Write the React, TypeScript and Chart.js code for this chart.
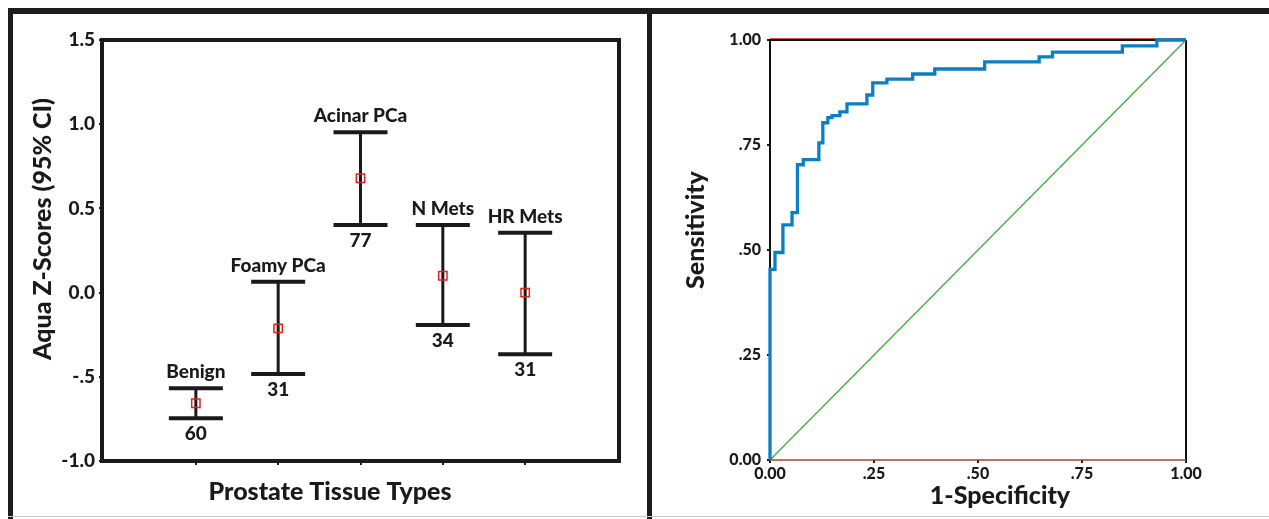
import React, { useEffect, useRef } from 'react';
import { Chart, registerables } from 'chart.js';

Chart.register(...registerables);

const FONT = 'Lato, "Noto Sans", "DejaVu Sans", sans-serif';
const INK = '#1a1a1a';

// ---------- Left panel: error bars ----------
const categories = ['Benign', 'Foamy PCa', 'Acinar PCa', 'N Mets', 'HR Mets'];
const counts = ['60', '31', '77', '34', '31'];
const ciUpper = [-0.568, 0.065, 0.952, 0.401, 0.356];
const means = [-0.657, -0.212, 0.679, 0.1, 0.0];
const ciLower = [-0.746, -0.483, 0.401, -0.192, -0.366];
const zTickValues = [-1.0, -0.5, 0.0, 0.5, 1.0, 1.5];
const zTickLabels = ['-1.0', '-.5', '0.0', '0.5', '1.0', '1.5'];
const leftYTitle = 'Aqua Z-Scores (95% CI)';
const leftXTitle = 'Prostate Tissue Types';

// ---------- Right panel: ROC ----------
const rocFpr = [0, 0, 0.012, 0.031, 0.053, 0.066, 0.08, 0.1175, 0.127, 0.139, 0.149, 0.168, 0.185, 0.233, 0.247, 0.281, 0.343, 0.396, 0.516, 0.647, 0.679, 0.847, 0.93, 1.0];
const rocTpr = [0, 0.454, 0.494, 0.56, 0.589, 0.703, 0.715, 0.755, 0.803, 0.815, 0.82, 0.829, 0.848, 0.869, 0.898, 0.907, 0.919, 0.931, 0.948, 0.96, 0.971, 0.986, 1.0, 1.0];
const refX = [0, 1];
const refY = [0, 1];
const rocTickValues = [0, 0.25, 0.5, 0.75, 1];
const rocTickLabels = ['0.00', '.25', '.50', '.75', '1.00'];
const rightYTitle = 'Sensitivity';
const rightXTitle = '1-Specificity';

const LEFT_W = 650;
const RIGHT_W = 614;
const H = 519;
const W_BOLD = '900';

export default function App() {
  const leftRef = useRef<HTMLCanvasElement | null>(null);
  const rightRef = useRef<HTMLCanvasElement | null>(null);

  useEffect(() => {
    const whiskers: any[] = [];
    categories.forEach((_, i) => {
      whiskers.push({ x: i + 1, y: ciLower[i] }, { x: i + 1, y: ciUpper[i] }, { x: i + 1.5, y: null });
    });

    const leftPlugin = {
      id: 'leftDecor',
      afterDatasetsDraw(chart: any) {
        const { ctx, chartArea, scales } = chart;
        ctx.save();
        ctx.strokeStyle = INK;
        ctx.lineWidth = 4;
        ctx.strokeRect(chartArea.left, chartArea.top, chartArea.right - chartArea.left, chartArea.bottom - chartArea.top);
        ctx.fillStyle = INK;
        ctx.font = `${W_BOLD} 19px ${FONT}`;
        ctx.textAlign = 'center';
        ctx.textBaseline = 'middle';
        categories.forEach((name, i) => {
          const px = scales.x.getPixelForValue(i + 1);
          ctx.fillText(name, px, scales.y.getPixelForValue(ciUpper[i]) - 16);
          ctx.fillText(counts[i], px, scales.y.getPixelForValue(ciLower[i]) + 16);
        });
        ctx.font = `${W_BOLD} 25px ${FONT}`;
        ctx.fillText(leftXTitle, 330, 492);
        ctx.translate(43, 229);
        ctx.rotate(-Math.PI / 2);
        ctx.fillText(leftYTitle, 0, 0);
        ctx.restore();
      },
    };

    const left = new Chart(leftRef.current as HTMLCanvasElement, {
      type: 'scatter',
      data: {
        datasets: [
          {
            data: means.map((v, i) => ({ x: i + 1, y: v })),
            pointStyle: 'rect',
            pointRadius: 5.9,
            pointBorderWidth: 1.5,
            pointBorderColor: '#e0221c',
            pointBackgroundColor: 'rgba(0,0,0,0)',
            showLine: false,
            clip: false,
          },
          {
            data: ciUpper.map((v, i) => ({ x: i + 1, y: v })),
            pointStyle: 'line',
            pointRadius: 27,
            pointBorderWidth: 4,
            pointBorderColor: INK,
            showLine: false,
            clip: false,
          },
          {
            data: ciLower.map((v, i) => ({ x: i + 1, y: v })),
            pointStyle: 'line',
            pointRadius: 27,
            pointBorderWidth: 4,
            pointBorderColor: INK,
            showLine: false,
            clip: false,
          },
          {
            data: whiskers,
            showLine: true,
            spanGaps: false,
            borderColor: INK,
            borderWidth: 3,
            pointRadius: 0,
            clip: false,
          },
        ] as any,
      },
      options: {
        animation: false,
        responsive: false,
        events: [],
        layout: { padding: { top: 40, right: LEFT_W - 624, left: 0, bottom: 0 } },
        plugins: { legend: { display: false }, tooltip: { enabled: false } },
        scales: {
          x: {
            type: 'linear',
            bounds: 'data',
            min: -0.14,
            max: 6.14,
            afterFit: (s: any) => { s.height = H - 461; },
            afterBuildTicks: (s: any) => { s.ticks = categories.map((_, i) => ({ value: i + 1 })); },
            ticks: { display: false },
            grid: { drawOnChartArea: false, drawTicks: true, tickLength: 4, color: INK, lineWidth: 2 },
            border: { display: false },
          },
          y: {
            type: 'linear',
            bounds: 'data',
            min: -1.0,
            max: 1.5,
            afterFit: (s: any) => { s.width = 102; },
            afterBuildTicks: (s: any) => { s.ticks = zTickValues.map((v) => ({ value: v })); },
            ticks: {
              callback: (v: any) => zTickLabels[zTickValues.indexOf(Number(v))],
              font: { family: FONT, size: 19, weight: W_BOLD },
              color: INK,
              padding: 4,
            },
            grid: { drawOnChartArea: false, drawTicks: true, tickLength: 3, color: INK, lineWidth: 2 },
            border: { display: false },
          },
        },
      } as any,
      plugins: [leftPlugin],
    });

    const rightPlugin = {
      id: 'rightDecor',
      beforeDatasetsDraw(chart: any) {
        const { ctx, chartArea } = chart;
        const { left: l, right: r, top: t, bottom: b } = chartArea;
        ctx.save();
        ctx.lineWidth = 1;
        ctx.strokeStyle = '#d35a4a';
        ctx.beginPath();
        ctx.moveTo(l, t - 1.5); ctx.lineTo(r, t - 1.5);
        ctx.stroke();
        ctx.lineWidth = 2;
        ctx.strokeStyle = '#111';
        ctx.beginPath();
        ctx.moveTo(l, t); ctx.lineTo(r, t);
        ctx.moveTo(l, t); ctx.lineTo(l, b);
        ctx.moveTo(r, t); ctx.lineTo(r, b);
        ctx.stroke();
        ctx.lineWidth = 1.5;
        ctx.strokeStyle = '#a8402e';
        ctx.beginPath();
        ctx.moveTo(l, b); ctx.lineTo(r, b);
        ctx.stroke();
        ctx.restore();
      },
      afterDatasetsDraw(chart: any) {
        const { ctx } = chart;
        ctx.save();
        ctx.fillStyle = INK;
        ctx.font = `${W_BOLD} 25px ${FONT}`;
        ctx.textAlign = 'center';
        ctx.textBaseline = 'middle';
        ctx.fillText(rightXTitle, 1000 - 655, 496);
        ctx.translate(696 - 655, 230);
        ctx.rotate(-Math.PI / 2);
        ctx.fillText(rightYTitle, 0, 0);
        ctx.restore();
      },
    };

    const right = new Chart(rightRef.current as HTMLCanvasElement, {
      type: 'scatter',
      data: {
        datasets: [
          {
            data: rocFpr.map((x, i) => ({ x, y: rocTpr[i] })),
            showLine: true,
            stepped: 'before',
            borderColor: '#0b7fc3',
            borderWidth: 3.3,
            pointRadius: 0,
            clip: false,
          },
          {
            data: refX.map((x, i) => ({ x, y: refY[i] })),
            showLine: true,
            borderColor: '#3aaa35',
            borderWidth: 1.2,
            pointRadius: 0,
            clip: false,
          },
        ] as any,
      },
      options: {
        animation: false,
        responsive: false,
        events: [],
        layout: { padding: { top: 40, right: RIGHT_W - 531, left: 0, bottom: 0 } },
        plugins: { legend: { display: false }, tooltip: { enabled: false } },
        scales: {
          x: {
            type: 'linear',
            bounds: 'data',
            min: 0,
            max: 1,
            afterFit: (s: any) => { s.height = H - 460; },
            afterBuildTicks: (s: any) => { s.ticks = rocTickValues.map((v) => ({ value: v })); },
            ticks: {
              callback: (v: any) => rocTickLabels[rocTickValues.indexOf(Number(v))],
              font: { family: FONT, size: 16, weight: W_BOLD },
              color: INK,
              padding: 1,
              maxRotation: 0,
            },
            grid: { drawOnChartArea: false, drawTicks: true, tickLength: 3, color: INK, lineWidth: 2 },
            border: { display: false },
          },
          y: {
            type: 'linear',
            bounds: 'data',
            min: 0,
            max: 1,
            afterFit: (s: any) => { s.width = 115; },
            afterBuildTicks: (s: any) => { s.ticks = rocTickValues.map((v) => ({ value: v })); },
            ticks: {
              callback: (v: any) => rocTickLabels[rocTickValues.indexOf(Number(v))],
              font: { family: FONT, size: 16, weight: W_BOLD },
              color: INK,
              padding: 6,
            },
            grid: { drawOnChartArea: false, drawTicks: true, tickLength: 3, color: INK, lineWidth: 2 },
            border: { display: false },
          },
        },
      } as any,
      plugins: [rightPlugin],
    });

    return () => {
      left.destroy();
      right.destroy();
    };
  }, []);

  const bar = (s: React.CSSProperties) => (
    <div style={{ position: 'absolute', background: '#1c1c1c', zIndex: 2, ...s }} />
  );

  return (
    <div style={{ position: 'absolute', left: 0, top: 0, width: 1269, height: H, background: '#fff', overflow: 'hidden' }}>
      <canvas ref={leftRef} width={LEFT_W} height={H} style={{ position: 'absolute', left: 0, top: 0, width: LEFT_W, height: H }} />
      <canvas ref={rightRef} width={RIGHT_W} height={H} style={{ position: 'absolute', left: 655, top: 0, width: RIGHT_W, height: H }} />
      {bar({ left: 8, top: 8, width: 1261, height: 6 })}
      {bar({ left: 8, top: 8, width: 5, height: H - 8 })}
      {bar({ left: 647, top: 8, width: 5, height: H - 8 })}
      {bar({ left: 8, top: 516, width: 1261, height: 1, background: '#c8c8c8' })}
    </div>
  );
}
